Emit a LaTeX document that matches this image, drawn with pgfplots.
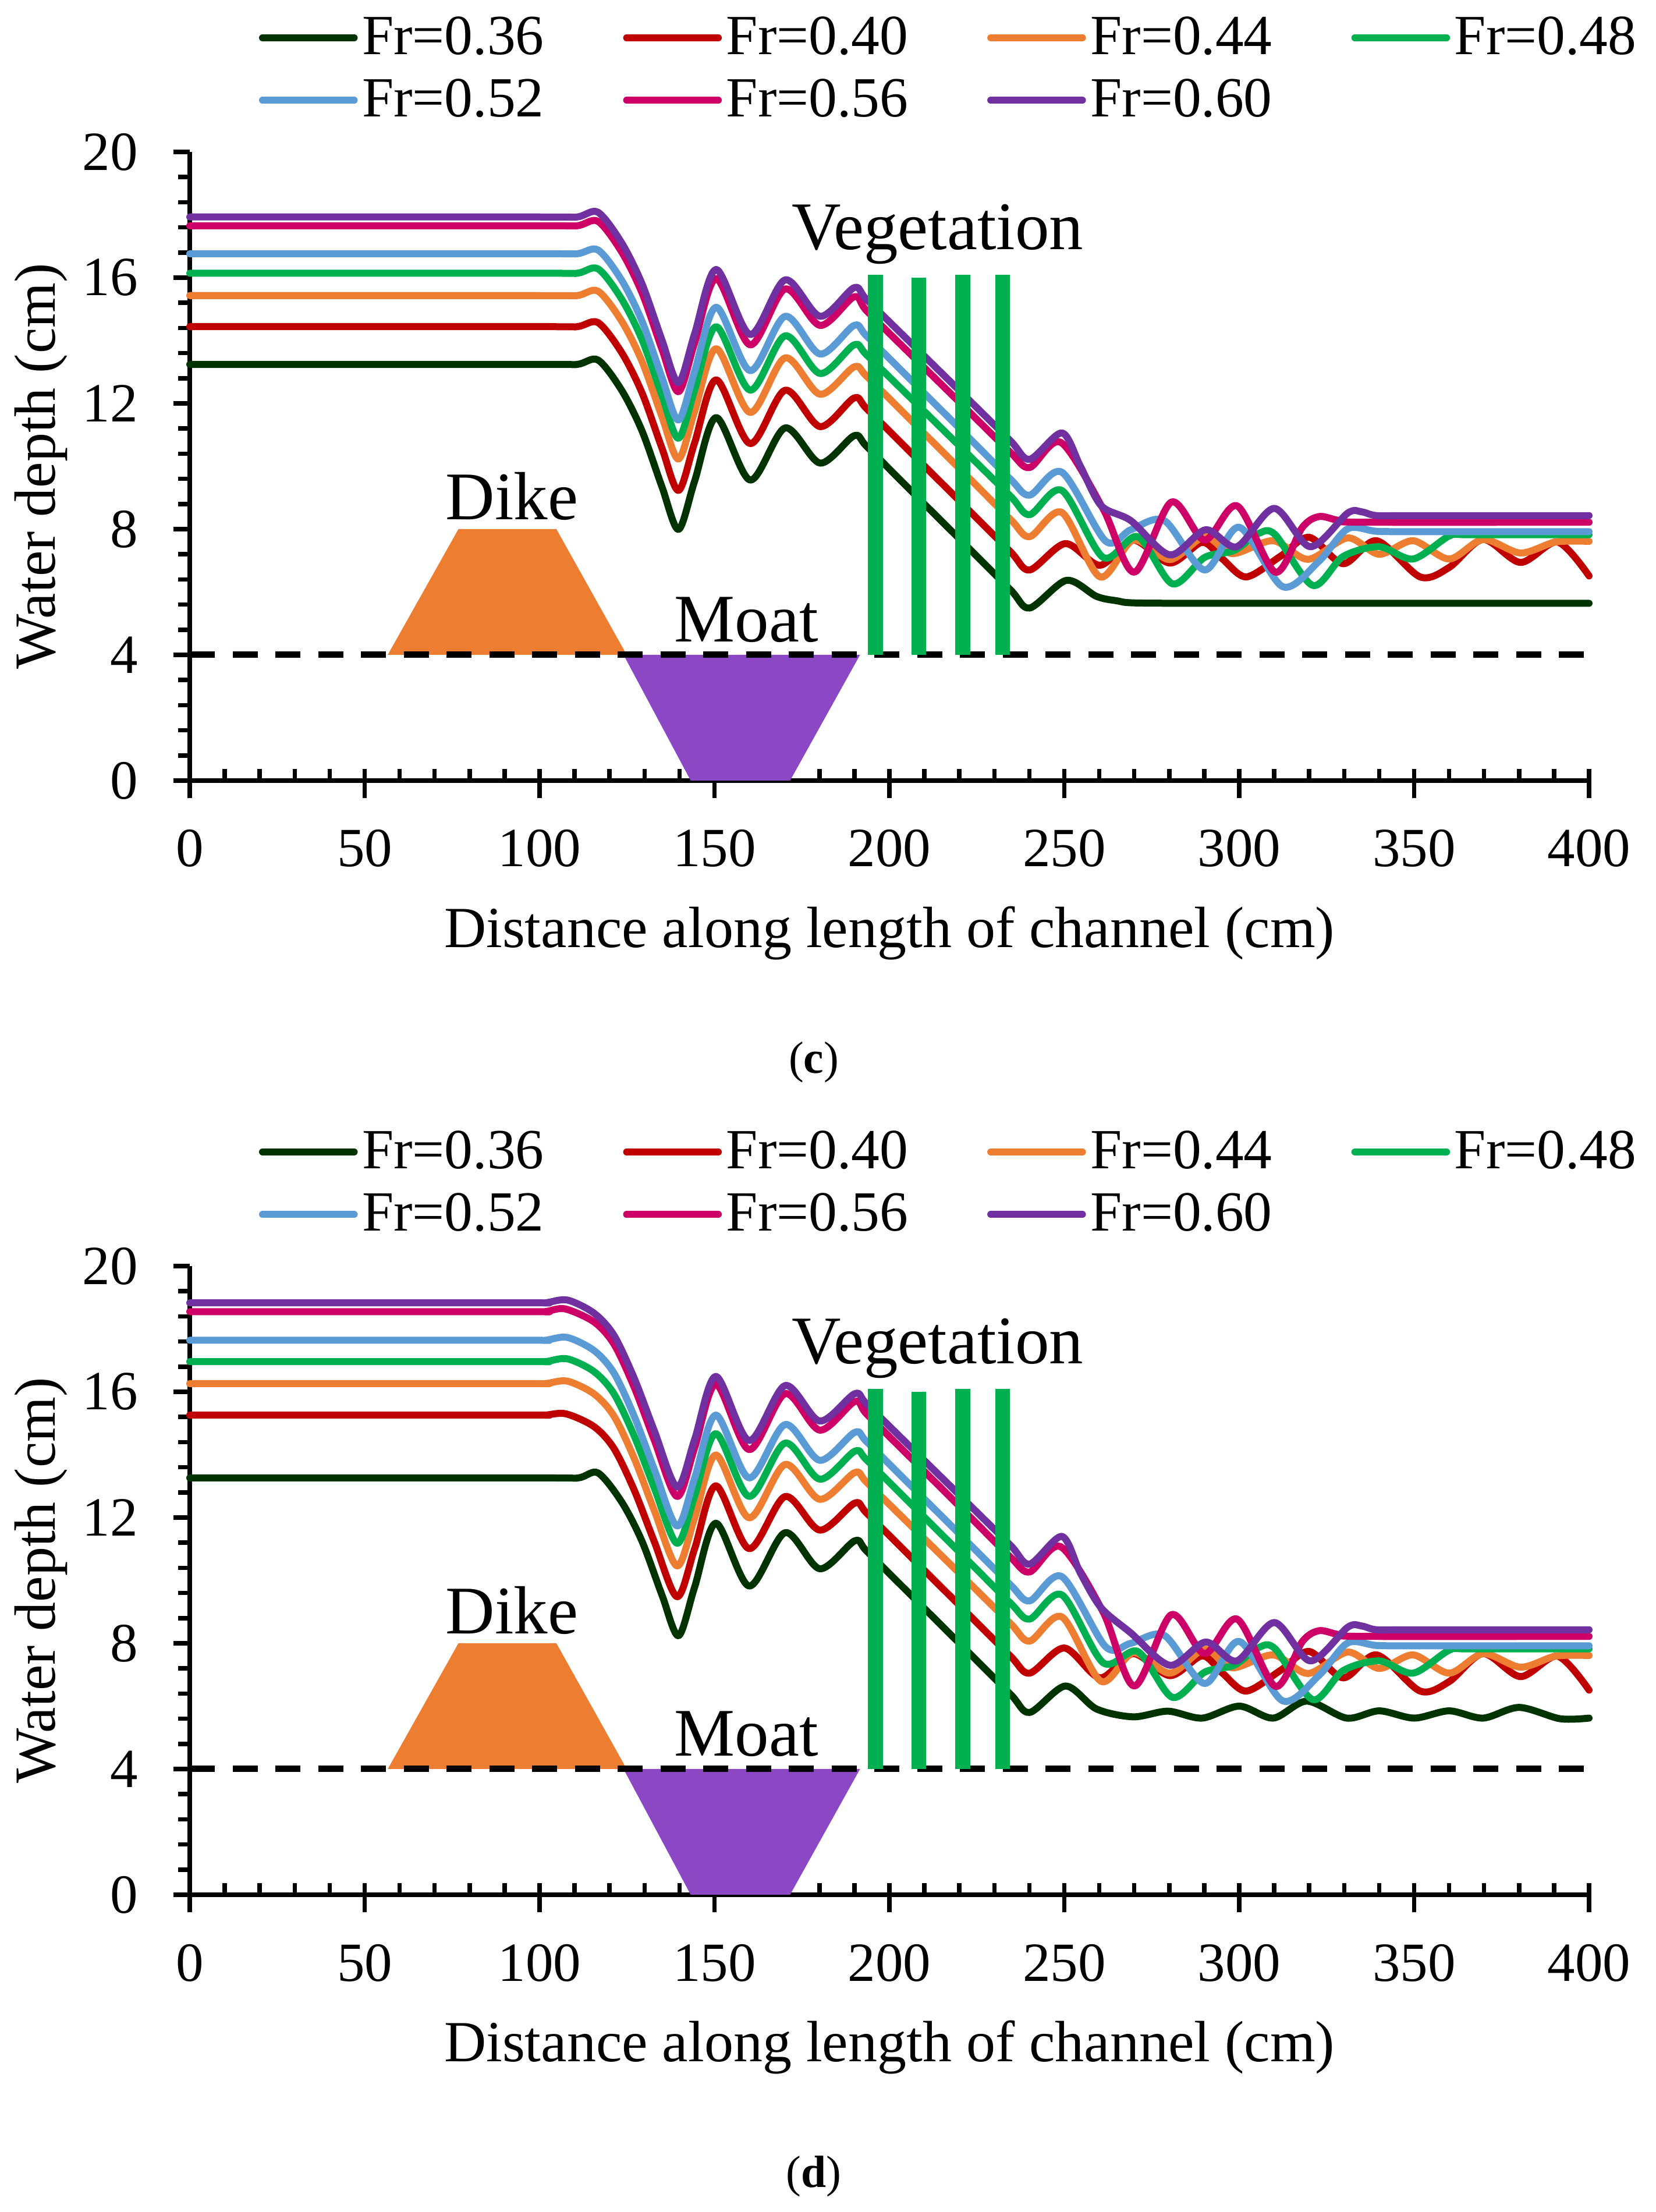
\documentclass[border=0pt]{standalone}
\usepackage{fontspec}
\setmainfont{Liberation Serif}
\usepackage{pgfplots}
\pgfplotsset{compat=1.18}
\definecolor{cA}{HTML}{003300}
\definecolor{cB}{HTML}{C00000}
\definecolor{cC}{HTML}{ED7D31}
\definecolor{cD}{HTML}{00B050}
\definecolor{cE}{HTML}{5B9BD5}
\definecolor{cF}{HTML}{CC0066}
\definecolor{cG}{HTML}{7030A0}
\definecolor{dike}{HTML}{ED7D31}
\definecolor{moat}{HTML}{8C48C4}
\definecolor{veg}{HTML}{00B050}
\pgfplotsset{
  cv/.style={line width=2.4pt, smooth, line cap=round, line join=round, mark=none},
  axA/.style={
    scale only axis, width=480.8pt, height=216pt,
    xmin=0, xmax=400, ymin=0, ymax=20,
    axis x line=bottom, axis y line=none,
    axis line style={-, line width=1.5pt},
    xtick={0,50,...,400}, minor x tick num=4, ytick=\empty,
    tick align=inside, major tick length=10pt, minor tick length=3.9pt,
    tick style={line width=1.5pt, black},
    major x tick style={yshift=-6.1pt},
    /pgf/number format/assume math mode=true,
    xticklabel style={anchor=base, yshift=-29.6pt, font=\fontsize{19}{22}\selectfont},
    xlabel={Distance along length of channel (cm)},
    x label style={at={(axis description cs:0.5,-0.2657)}, anchor=base, font=\fontsize{20}{24}\selectfont},
    clip=false,
    legend columns=4,
    legend cell align=left,
    legend image code/.code={\draw[##1, line width=2.4pt, line cap=round] (0pt,0pt) -- (31.5pt,0pt);},
    legend style={at={(axis description cs:0.0495,1.215)}, anchor=north west,
      draw=none, fill=none, inner sep=0pt, outer sep=0pt, row sep=7pt,
      nodes={inner sep=0pt}, font=\fontsize{19.5}{22}\selectfont,
      /tikz/every odd column/.append style={column sep=1.55pt},
      /tikz/every even column/.append style={column sep=27.2pt}},
  },
  axB/.style={
    scale only axis, width=480.8pt, height=216pt,
    xmin=0, xmax=400, ymin=0, ymax=20,
    axis x line=none, axis y line=left,
    axis line style={-, line width=1.5pt},
    xtick=\empty, ytick={0,4,...,20}, minor y tick num=4,
    tick align=outside, major tick length=5.5pt, minor tick length=4pt,
    tick style={line width=1.5pt, black},
    /pgf/number format/assume math mode=true,
    yticklabel style={anchor=east, inner sep=0pt, xshift=-12.1pt, font=\fontsize{19}{22}\selectfont},
    ylabel={Water depth (cm)},
    y label style={at={(axis description cs:-0.0961,0.5)}, anchor=base, font=\fontsize{20}{24}\selectfont},
  },
}
\begin{document}
\begin{tikzpicture}
\path[use as bounding box] (0,0) rectangle (569pt,760pt);

% ================= (c) =================
\begin{axis}[axB, at={(65.2pt,491.8pt)}, anchor=south west]
\end{axis}
\begin{axis}[axA, at={(65.2pt,491.8pt)}, anchor=south west]
\addplot[fill=dike, draw=none, forget plot] coordinates {(56.6,4) (76.8,8) (104.8,8) (124.9,4)};
\addplot[fill=moat, draw=none, forget plot] coordinates {(124,4) (143.2,0) (171.6,0) (191.6,4)};
\addplot[black, line width=2.2pt, dash pattern=on 8.6pt off 6.1pt, forget plot] coordinates {(0,4) (400,4)};

\addplot[cv, cA] coordinates {(0,13.24) (100,13.24) (110.7,13.24) (116.7,13.38) (123.5,12.41) (129.3,11.12) (135,9.34) (139.7,7.99) (144.3,9.52) (150.5,11.55) (160.2,9.56) (170.2,11.22) (180.2,10.10) (189.9,10.97) (193.6,10.62) (207,9.13) (221,7.58) (234.6,6.07) (240.1,5.49) (250.6,6.37) (259.2,5.86) (265,5.72) (271,5.65) (300,5.64) (350,5.64) (400,5.64)};
\addlegendentry{Fr=0.36}
\addplot[cv, cB] coordinates {(0,14.44) (100,14.44) (110.7,14.44) (116.7,14.57) (123.5,13.61) (129.3,12.33) (135,10.57) (139.7,9.23) (144.3,10.74) (150.5,12.75) (160.2,10.72) (170.2,12.42) (180.2,11.26) (189.9,12.17) (193.6,11.82) (207,10.34) (221,8.79) (234.6,7.28) (240.1,6.70) (250.3,7.54) (260.2,6.85) (269.7,7.65) (280.2,6.92) (289.4,7.58) (295.2,7.05) (302,6.48) (311.7,7.13) (320,7.74) (329.7,6.90) (339.3,7.63) (351.7,6.48) (360,6.78) (369.7,7.67) (380.4,6.94) (391,7.59) (400,6.51)};
\addlegendentry{Fr=0.40}
\addplot[cv, cC] coordinates {(0,15.43) (100,15.43) (110.7,15.43) (116.7,15.57) (123.5,14.61) (129.3,13.33) (135,11.57) (139.7,10.23) (144.3,11.74) (150.5,13.74) (160.2,11.71) (170.2,13.45) (180.2,12.29) (189.9,13.16) (193.6,12.85) (207,11.37) (221,9.82) (234.6,8.31) (240.1,7.76) (249.3,8.53) (260.2,6.48) (269.7,7.65) (280.2,7.03) (290.1,7.76) (298,7.22) (309.7,7.63) (319.7,7.04) (331,7.72) (340,7.20) (349.7,7.63) (360,7.05) (369.7,7.67) (380.4,7.24) (390.4,7.59) (400,7.61)};
\addlegendentry{Fr=0.44}
\addplot[cv, cD] coordinates {(0,16.14) (100,16.14) (110.7,16.14) (116.7,16.28) (123.5,15.31) (129.3,14.02) (135,12.24) (139.7,10.89) (144.3,12.42) (150.5,14.44) (160.2,12.42) (170.2,14.15) (180.2,12.95) (189.9,13.86) (193.6,13.53) (207,12.07) (221,10.54) (234.6,9.05) (240.1,8.46) (249.3,9.23) (261.1,7.10) (271,7.76) (280.9,6.26) (290.1,7.10) (298.5,7.32) (305.5,7.86) (310.3,7.82) (321,6.21) (329.7,7.13) (340,7.44) (349.7,7.05) (360,7.78) (366,7.82) (400,7.82)};
\addlegendentry{Fr=0.48}
\addplot[cv, cE] coordinates {(0,16.76) (100,16.76) (110.7,16.76) (116.7,16.88) (123.5,15.91) (129.3,14.61) (135,12.82) (139.7,11.47) (144.3,13.01) (150.5,15.06) (160.2,13.04) (170.2,14.77) (180.2,13.57) (189.9,14.48) (193.6,14.13) (207,12.65) (221,11.10) (234.6,9.59) (240.1,9.08) (249.3,9.81) (261.8,7.62) (269,7.98) (278.6,8.27) (290.1,6.70) (300,8.06) (312.4,6.17) (322.8,6.98) (331,8.01) (339.3,7.93) (350,7.92) (400,7.92)};
\addlegendentry{Fr=0.52}
\addplot[cv, cF] coordinates {(0,17.65) (100,17.65) (110.7,17.65) (116.7,17.79) (123.5,16.81) (129.3,15.51) (135,13.72) (139.7,12.37) (144.3,13.92) (150.5,15.97) (160.2,13.86) (170.2,15.64) (180.2,14.48) (189.9,15.39) (193.6,14.93) (207,13.46) (221,11.93) (234.6,10.44) (240.1,9.96) (249,10.76) (261.1,8.64) (270,6.63) (280.6,8.86) (290.1,7.65) (299.4,8.74) (310.3,6.63) (318,8.05) (322.8,8.40) (328.3,8.28) (335,8.22) (400,8.22)};
\addlegendentry{Fr=0.56}
\addplot[cv, cG] coordinates {(0,17.93) (100,17.93) (110.7,17.93) (116.7,18.08) (123.5,17.10) (129.3,15.80) (135,14.01) (139.7,12.66) (144.3,14.21) (150.5,16.26) (160.2,14.19) (170.2,15.93) (180.2,14.77) (189.9,15.68) (193.6,15.29) (207,13.83) (221,12.30) (234.6,10.81) (240.1,10.22) (249.3,11.06) (254.6,10.0) (260.5,8.75) (269,8.27) (280.2,7.18) (290.4,7.98) (299.3,7.44) (310,8.66) (320.3,7.44) (331,8.51) (335,8.55) (339.3,8.43) (350,8.43) (400,8.43)};
\addlegendentry{Fr=0.60}

\addplot[veg, line width=5.1pt, forget plot] coordinates {(196,4) (196,16.1)};
\addplot[veg, line width=5.1pt, forget plot] coordinates {(208.4,4) (208.4,16.0)};
\addplot[veg, line width=5.1pt, forget plot] coordinates {(221,4) (221,16.1)};
\addplot[veg, line width=5.1pt, forget plot] coordinates {(232.4,4) (232.4,16.1)};

\node[anchor=base west, inner sep=0pt, font=\fontsize{23.4}{28}\selectfont] at (axis cs:172,16.9) {Vegetation};
\node[anchor=base west, inner sep=0pt, font=\fontsize{23.4}{28}\selectfont] at (axis cs:73,8.31) {Dike};
\node[anchor=base west, inner sep=0pt, font=\fontsize{23.4}{28}\selectfont] at (axis cs:138.4,4.41) {Moat};
\end{axis}
\node[font=\fontsize{15.5}{18}\selectfont] at (279.6pt,395pt) {(\textbf{c})};

% ================= (d) =================
\begin{axis}[axB, at={(65.2pt,109pt)}, anchor=south west]
\end{axis}
\begin{axis}[axA, at={(65.2pt,109pt)}, anchor=south west]
\addplot[fill=dike, draw=none, forget plot] coordinates {(56.6,4) (76.8,8) (104.8,8) (124.9,4)};
\addplot[fill=moat, draw=none, forget plot] coordinates {(124,4) (143.2,0) (171.6,0) (191.6,4)};
\addplot[black, line width=2.2pt, dash pattern=on 8.6pt off 6.1pt, forget plot] coordinates {(0,4) (400,4)};

\addplot[cv, cA] coordinates {(0,13.26) (100,13.26) (111,13.26) (116.7,13.42) (123.5,12.49) (129.3,11.24) (135,9.53) (139.7,8.24) (144.3,9.78) (150.4,11.82) (159.9,9.82) (170.2,11.52) (180.1,10.37) (190.1,11.26) (193.6,10.92) (207,9.44) (221,7.89) (234.6,6.38) (240.1,5.80) (250.3,6.64) (259.2,5.91) (269.7,5.66) (279.6,5.84) (289.4,5.62) (300,6.00) (309.7,5.62) (319.3,6.16) (330.7,5.62) (340,5.85) (350,5.62) (360,5.85) (369.7,5.62) (380,5.96) (391.7,5.60) (400,5.62)};
\addlegendentry{Fr=0.36}
\addplot[cv, cB] coordinates {(0,15.26) (95,15.26) (101.5,15.26) (107.5,15.30) (115.6,14.89) (121.3,14.19) (127.1,12.86) (132.8,11.23) (139.3,9.48) (144.3,11.00) (150.4,13.01) (159.9,11.01) (170.2,12.67) (180.1,11.60) (190.1,12.46) (193.6,12.13) (207,10.65) (221,9.10) (234.6,7.59) (240.1,7.05) (250,7.85) (260.2,6.90) (269.7,7.67) (280.2,6.97) (289.4,7.60) (295.2,7.05) (302,6.48) (311.7,7.13) (320,7.74) (329.7,6.90) (339.3,7.63) (351.7,6.48) (360,6.78) (369.7,7.67) (380.4,6.94) (391,7.59) (400,6.51)};
\addlegendentry{Fr=0.40}
\addplot[cv, cC] coordinates {(0,16.26) (95,16.26) (101.5,16.26) (107.9,16.34) (115.6,15.93) (121.3,15.22) (127.1,13.87) (132.8,12.22) (139.3,10.46) (144.3,11.98) (150.4,13.99) (159.9,11.99) (170.2,13.69) (180.1,12.58) (190.1,13.43) (193.6,13.11) (207,11.65) (221,10.12) (234.6,8.63) (240.1,8.07) (249.3,8.84) (260.5,6.79) (269.7,7.70) (280.2,7.05) (290.1,7.81) (298,7.22) (309.7,7.63) (319.7,7.04) (331,7.72) (340,7.20) (349.7,7.63) (360,7.05) (369.7,7.67) (380.4,7.24) (390.4,7.59) (400,7.61)};
\addlegendentry{Fr=0.44}
\addplot[cv, cD] coordinates {(0,16.96) (95,16.96) (101.5,16.96) (107.9,17.05) (115.6,16.64) (121.3,15.93) (127.1,14.58) (132.8,12.94) (139.3,11.18) (144.3,12.68) (150.4,14.67) (159.9,12.67) (170.2,14.37) (180.1,13.22) (190.1,14.11) (193.6,13.82) (207,12.34) (221,10.79) (234.6,9.28) (240.1,8.77) (249.3,9.54) (261.1,7.38) (271,7.74) (280.9,6.28) (290.1,7.08) (298.5,7.30) (305.5,7.86) (310.3,7.82) (321,6.21) (329.7,7.13) (340,7.44) (349.7,7.05) (360,7.78) (366,7.82) (400,7.82)};
\addlegendentry{Fr=0.48}
\addplot[cv, cE] coordinates {(0,17.64) (95,17.64) (101.5,17.64) (107.9,17.73) (115.6,17.31) (121.3,16.59) (127.1,15.21) (132.8,13.53) (139.3,11.73) (144.3,13.25) (150.4,15.26) (159.9,13.26) (170.2,14.96) (180.1,13.82) (190.1,14.71) (193.6,14.40) (207,12.92) (221,11.37) (234.6,9.86) (240.1,9.35) (249.3,10.12) (261.8,7.89) (269,8.00) (278.6,8.25) (290.1,6.72) (300,8.06) (312.4,6.17) (322.8,6.98) (331,8.01) (339.3,7.93) (350,7.92) (400,7.92)};
\addlegendentry{Fr=0.52}
\addplot[cv, cF] coordinates {(0,18.55) (95,18.55) (101.5,18.55) (107.2,18.64) (115.6,18.22) (121.3,17.51) (127.1,16.13) (132.8,14.46) (139.3,12.67) (144.3,14.21) (150.4,16.24) (159.9,14.16) (170.2,15.94) (180.1,14.78) (190.1,15.69) (193.6,15.28) (207,13.80) (221,12.25) (234.6,10.74) (240.1,10.27) (249,11.07) (261.1,8.99) (270,6.64) (280.6,8.91) (290.1,7.67) (299.4,8.77) (310.3,6.63) (318,8.05) (322.8,8.40) (328.3,8.28) (335,8.22) (400,8.22)};
\addlegendentry{Fr=0.56}
\addplot[cv, cG] coordinates {(0,18.83) (95,18.83) (101.5,18.83) (107.9,18.92) (115.6,18.50) (121.3,17.79) (127.1,16.42) (132.8,14.76) (139.3,12.97) (144.3,14.48) (150.4,16.49) (159.9,14.45) (170.2,16.20) (180.1,15.07) (190.1,15.94) (193.6,15.60) (207,14.14) (221,12.61) (234.6,11.12) (240.1,10.52) (249.3,11.40) (254.6,10.23) (260.5,9.13) (269,8.33) (280.2,7.30) (290.4,8.04) (299.3,7.44) (310,8.66) (320.3,7.44) (331,8.51) (335,8.55) (339.3,8.43) (350,8.43) (400,8.43)};
\addlegendentry{Fr=0.60}

\addplot[veg, line width=5.1pt, forget plot] coordinates {(196,4) (196,16.1)};
\addplot[veg, line width=5.1pt, forget plot] coordinates {(208.4,4) (208.4,16.0)};
\addplot[veg, line width=5.1pt, forget plot] coordinates {(221,4) (221,16.1)};
\addplot[veg, line width=5.1pt, forget plot] coordinates {(232.4,4) (232.4,16.1)};

\node[anchor=base west, inner sep=0pt, font=\fontsize{23.4}{28}\selectfont] at (axis cs:172,16.9) {Vegetation};
\node[anchor=base west, inner sep=0pt, font=\fontsize{23.4}{28}\selectfont] at (axis cs:73,8.31) {Dike};
\node[anchor=base west, inner sep=0pt, font=\fontsize{23.4}{28}\selectfont] at (axis cs:138.4,4.41) {Moat};
\end{axis}
\node[font=\fontsize{15.5}{18}\selectfont] at (279.6pt,12.2pt) {(\textbf{d})};
\end{tikzpicture}
\end{document}
